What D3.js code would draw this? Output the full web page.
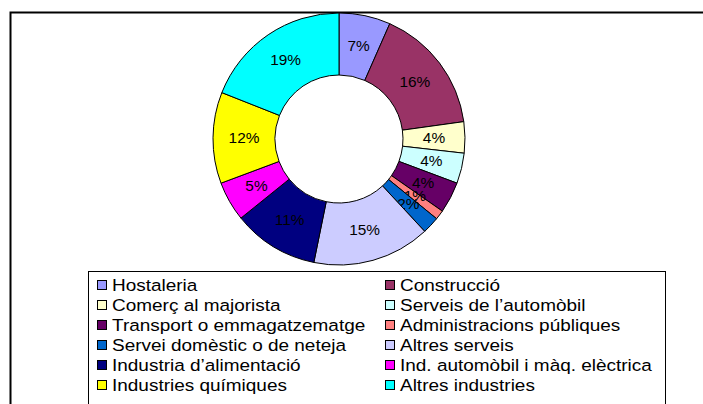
<!DOCTYPE html>
<meta charset="utf-8">
<html>
    <head>
        <style>
            body { margin: 0; background: #fff; }
            text { font-family: "Liberation Sans", Arial, sans-serif; }
        </style>
        <script src="https://d3js.org/d3.v7.min.js"></script>
    </head>
    <body>
        <script>

            // Sectors, in drawing order (clockwise from the top)
            var sectors = ["Hostaleria", "Construcció", "Comerç al majorista", "Serveis de l’automòbil",
                "Transport o emmagatzematge", "Administracions públiques", "Servei domèstic o de neteja",
                "Altres serveis", "Industria d’alimentació", "Ind. automòbil i màq. elèctrica",
                "Industries químiques", "Altres industries"];

            // Share of each sector, in percent
            var shares = [6.6, 16.2, 4.0, 3.9, 4.0, 1.2, 2.2, 15.1, 11.0, 5.1, 11.7, 19.0];

            var colors = ["#9999ff", "#993366", "#ffffcc", "#ccffff", "#660066", "#ff8080",
                "#0066cc", "#ccccff", "#000080", "#ff00ff", "#ffff00", "#00ffff"];

            var width = 703, height = 404;

            var svg = d3.select("body")
                .append("svg")
                .attr("width", width)
                .attr("height", height);

            // Outer chart frame (runs off the right and bottom edge)
            svg.append("rect")
                .attr("x", 10.5)
                .attr("y", 12.5)
                .attr("width", 720)
                .attr("height", 420)
                .attr("fill", "none")
                .attr("stroke", "#000")
                .attr("stroke-width", 2);

            var color = d3.scaleOrdinal().domain(sectors).range(colors);

            var data = sectors.map(function(d, i) { return {name: d, value: shares[i]}; });
            var total = d3.sum(shares);

            var pie = d3.pie()
                .sort(null)
                .value(function(d) { return d.value; });

            var arc = d3.arc()
                .innerRadius(64)
                .outerRadius(126);

            var g = svg.append("g")
                .attr("transform", "translate(339,139)");

            var arcs = g.selectAll("g.slice")
                .data(pie(data))
                .enter().append("g")
                .attr("class", "slice");

            arcs.append("path")
                .attr("d", arc)
                .attr("fill", function(d) { return color(d.data.name); })
                .attr("stroke", "#000")
                .attr("stroke-width", 1);

            // percent labels, a bit wide like the original
            arcs.append("text")
                .attr("transform", function(d) { return "translate(" + arc.centroid(d) + ") scale(1.1,1)"; })
                .attr("text-anchor", "middle")
                .attr("dy", "0.35em")
                .attr("font-size", 14)
                .attr("fill", "#000")
                .text(function(d) { return Math.round(d.data.value / total * 100) + "%"; });

            // Legend
            var legend = svg.append("g")
                .attr("transform", "translate(88,271)");

            legend.append("rect")
                .attr("x", 0.5)
                .attr("y", 0.5)
                .attr("width", 577)
                .attr("height", 200)
                .attr("fill", "#fff")
                .attr("stroke", "#000")
                .attr("stroke-width", 1);

            var items = legend.selectAll("g.item")
                .data(sectors)
                .enter().append("g")
                .attr("class", "item")
                .attr("transform", function(d, i) {
                    return "translate(" + (i % 2 == 0 ? 9 : 297) + "," + (14 + Math.floor(i / 2) * 20) + ")";
                });

            items.append("rect")
                .attr("x", 0.5)
                .attr("y", -4.5)
                .attr("width", 9)
                .attr("height", 9)
                .attr("fill", function(d) { return color(d); })
                .attr("stroke", "#000");

            items.append("text")
                .attr("transform", "translate(15,0) scale(1.15,1)")
                .attr("dy", "0.35em")
                .attr("font-size", 16.5)
                .attr("fill", "#000")
                .text(function(d) { return d; });

        </script>
    </body>
</html>
